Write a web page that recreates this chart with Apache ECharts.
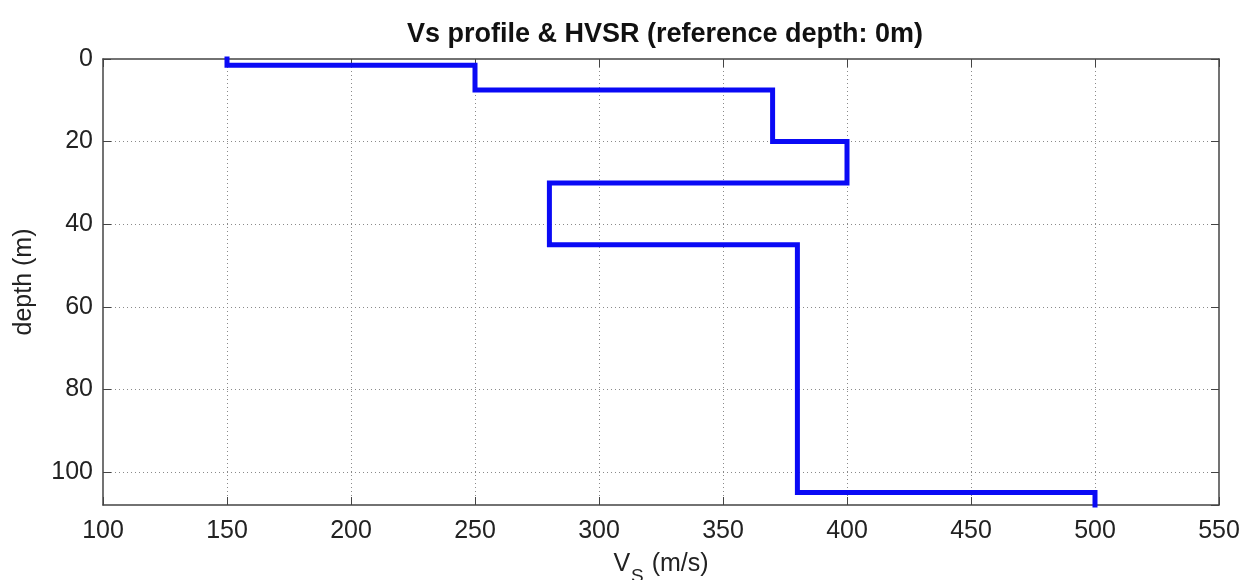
<!DOCTYPE html>
<html>
<head>
<meta charset="utf-8">
<script src="https://cdn.jsdelivr.net/npm/echarts@6/dist/echarts.min.js"></script>
<style>
  html, body { margin: 0; padding: 0; background: #fff; }
  #chart { width: 1244px; height: 580px; }
</style>
</head>
<body>
<div id="chart"></div>
<script>
// layer velocities (m/s) and the depths of the layer boundaries (m)
var velocities = [150, 250, 370, 400, 280, 380, 500];
var boundaries = [0, 1.5, 7.5, 20, 30, 45, 105, 108];
var xTicks = [100, 150, 200, 250, 300, 350, 400, 450, 500, 550];
var yTicks = [0, 20, 40, 60, 80, 100];

// step profile: each layer is a vertical segment at its velocity
var profile = [];
for (var i = 0; i < velocities.length; i++) {
  profile.push([velocities[i], boundaries[i]]);
  profile.push([velocities[i], boundaries[i + 1]]);
}

var font = '"Liberation Sans", Arial, sans-serif';
var axisColor = '#444';
var gridLine = { show: true, showMaxLine: false, showMinLine: false, lineStyle: { color: '#8a8a8a', width: 1, type: [1, 3] } };

var myChart = echarts.init(document.getElementById('chart'));
myChart.setOption({
  animation: false,
  title: {
    text: 'Vs profile & HVSR (reference depth: 0m)',
    left: 660,
    top: 16,
    textAlign: 'center',
    textStyle: { fontFamily: font, fontWeight: 'bold', fontSize: 27, color: '#111' }
  },
  grid: { left: 103, right: 25, top: 59, bottom: 75, show: false, containLabel: false, outerBoundsMode: 'none' },
  xAxis: [{
    type: 'value',
    min: xTicks[0],
    max: xTicks[xTicks.length - 1],
    interval: 50,
    position: 'bottom',
    axisLine: { onZero: false, lineStyle: { color: axisColor, width: 1.5 } },
    axisTick: { inside: true, length: 8, lineStyle: { color: axisColor } },
    axisLabel: { margin: 14, fontFamily: font, fontSize: 25, color: '#222' },
    splitLine: gridLine,
    name: '{v|V}{s|S}{t| (m/s)}',
    nameLocation: 'middle',
    nameGap: 47,
    nameTextStyle: {
      fontFamily: font, fontSize: 25, color: '#222',
      rich: {
        v: { fontFamily: font, fontSize: 25, color: '#222', verticalAlign: 'top' },
        s: { fontFamily: font, fontSize: 19, color: '#222', verticalAlign: 'top', padding: [15, 1, 0, 1] },
        t: { fontFamily: font, fontSize: 25, color: '#222', verticalAlign: 'top' }
      }
    }
  }, {
    type: 'value',
    min: xTicks[0],
    max: xTicks[xTicks.length - 1],
    interval: 50,
    position: 'top',
    axisLine: { onZero: false, lineStyle: { color: axisColor, width: 1.5 } },
    axisTick: { inside: true, length: 8, lineStyle: { color: axisColor } },
    axisLabel: { show: false },
    splitLine: { show: false }
  }],
  yAxis: [{
    type: 'value',
    inverse: true,
    min: 0,
    max: boundaries[boundaries.length - 1],
    interval: 20,
    position: 'left',
    axisLine: { show: true, onZero: false, lineStyle: { color: axisColor, width: 1.5 } },
    axisTick: { show: true, inside: true, length: 8, lineStyle: { color: axisColor } },
    axisLabel: {
      margin: 10, fontFamily: font, fontSize: 25, color: '#222', showMaxLabel: false,
      formatter: function (v) { return yTicks.indexOf(v) >= 0 ? String(v) : ''; }
    },
    splitLine: gridLine,
    name: 'depth (m)',
    nameLocation: 'middle',
    nameGap: 66,
    nameTextStyle: { fontFamily: font, fontSize: 25, color: '#222' }
  }, {
    type: 'value',
    inverse: true,
    min: 0,
    max: boundaries[boundaries.length - 1],
    interval: 20,
    position: 'right',
    axisLine: { show: true, onZero: false, lineStyle: { color: axisColor, width: 1.5 } },
    axisTick: { show: true, inside: true, length: 8, lineStyle: { color: axisColor } },
    axisLabel: { show: false },
    splitLine: { show: false }
  }],
  series: [{
    name: 'Vs',
    type: 'line',
    xAxisIndex: 0,
    yAxisIndex: 0,
    showSymbol: false,
    symbol: 'none',
    clip: false,
    data: profile,
    lineStyle: { color: '#0a0af5', width: 5, cap: 'square', join: 'miter' }
  }]
});
</script>
</body>
</html>
